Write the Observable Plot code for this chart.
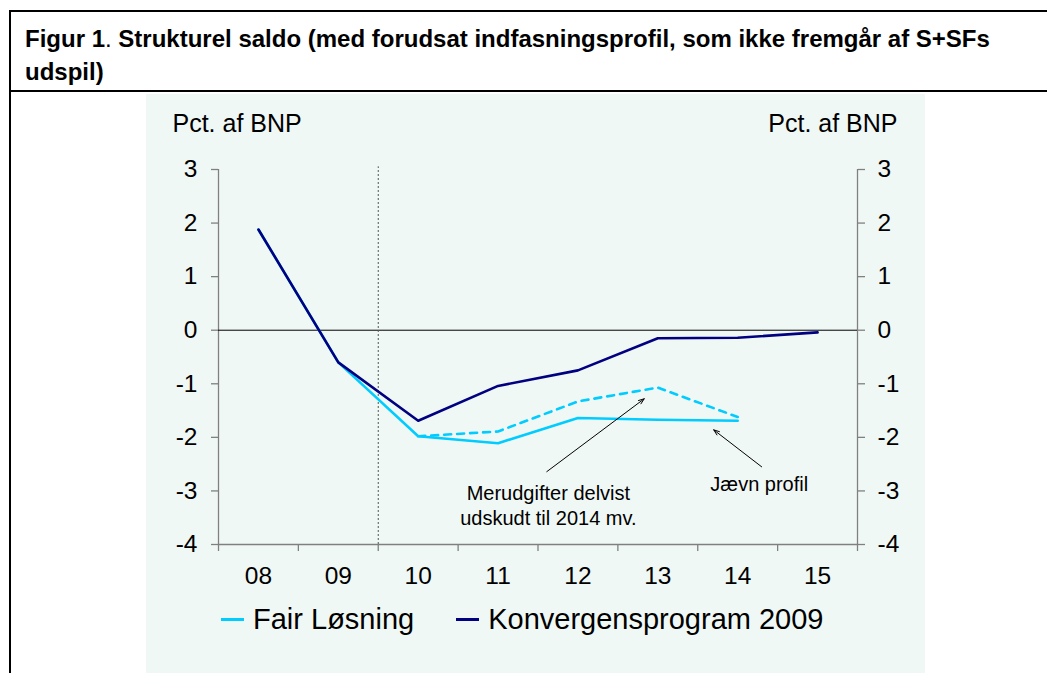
<!DOCTYPE html>
<html>
<head>
<meta charset="utf-8">
<script src="https://cdn.jsdelivr.net/npm/d3@7"></script>
<script src="https://cdn.jsdelivr.net/npm/@observablehq/plot@0.6"></script>
<style>
  html, body { margin: 0; padding: 0; background: #fff; }
  body { position: relative; width: 1047px; height: 673px; overflow: hidden; font-family: "Liberation Sans", Arial, sans-serif; }
  .vline { position: absolute; left: 9px; top: 10px; bottom: 0; width: 2px; background: #000; }
  .header { position: absolute; left: 9px; top: 10px; width: 1038px; height: 78px; border-top: 2px solid #000; border-bottom: 2px solid #000; }
  .title { position: absolute; left: 16px; top: 10px; width: 1010px; font-size: 24px; line-height: 33px; font-weight: bold; color: #000; margin: 0; white-space: nowrap; }
  .title .dot { font-weight: normal; }
  .panel { position: absolute; left: 146px; top: 94px; width: 779px; bottom: 0; background: #f0f8f5; }
  #chart { position: absolute; left: 0; top: 92px; }
  .legend { position: absolute; left: 221px; top: 603px; display: flex; align-items: center; font-size: 29px; color: #000; }
  .legend .item { display: flex; align-items: center; }
  .legend .sw { width: 23px; height: 3px; margin-right: 9px; }
</style>
</head>
<body>
<div class="panel"></div>
<div class="header"><p class="title"><span>Figur 1</span><span class="dot">.</span><span> Strukturel saldo (med forudsat indfasningsprofil, som ikke fremgår af S+SFs</span><br><span>udspil)</span></p></div>
<div class="vline"></div>
<div id="chart"></div>
<div class="legend" id="legend"></div>
<script>
// ---- data ----
const years = [8, 9, 10, 11, 12, 13, 14, 15];
const yearLabels = ["08", "09", "10", "11", "12", "13", "14", "15"];
const konvergens = [1.88, -0.60, -1.69, -1.04, -0.75, -0.15, -0.14, -0.04];
const fairLosning = [1.88, -0.60, -1.98, -2.11, -1.64, -1.67, -1.69, null];
const udskudtYears = [10, 11, 12, 13, 14];
const udskudt = [-1.98, -1.89, -1.33, -1.07, -1.62];
const yTicks = [-4, -3, -2, -1, 0, 1, 2, 3];
const seriesNames = ["Fair Løsning", "Konvergensprogram 2009"];
const seriesColors = ["#00ccff", "#000080"];
const annotations = [
  {text: "Merudgifter delvist\nudskudt til 2014 mv.", x: 11.63, y: -2.83, ax1: 11.61, ay1: -2.64, ax2: 12.83, ay2: -1.28},
  {text: "Jævn profil", x: 14.27, y: -2.67, ax1: 14.30, ay1: -2.55, ax2: 13.70, ay2: -1.86}
];
const phaseBoundary = 9.5;

// ---- build tables ----
const konvData = years.map((x, i) => ({x, y: konvergens[i]}));
const fairData = years.map((x, i) => ({x, y: fairLosning[i]})).filter(d => d.y != null);
const udskudtData = udskudtYears.map((x, i) => ({x, y: udskudt[i]}));
const boundaries = d3.range(years[0] - 0.5, years[years.length - 1] + 1, 1);
const xLo = years[0] - 0.5, xHi = years[years.length - 1] + 0.5;
const axisGray = "#808080";
const yFmt = d => String(d);

const chart = Plot.plot({
  width: 1047,
  height: 498,
  marginTop: 77,
  marginBottom: 46,
  marginLeft: 218,
  marginRight: 190,
  style: {background: "transparent", fontFamily: "'Liberation Sans', Arial, sans-serif", color: "#000", overflow: "visible"},
  x: {type: "linear", domain: [xLo, xHi]},
  y: {domain: [-4, 3]},
  marks: [
    Plot.axisX({ticks: boundaries, tickSize: 7, tickFormat: () => "", stroke: axisGray, strokeWidth: 1.3}),
    Plot.axisX({ticks: years, tickSize: 0, tickPadding: 22, tickFormat: d => yearLabels[years.indexOf(d)], fontSize: 24.5, label: null}),
    Plot.axisY({anchor: "left", ticks: yTicks, tickSize: 7, tickPadding: 14, tickFormat: yFmt, fontSize: 24.5, stroke: axisGray, strokeWidth: 1.3, label: null}),
    Plot.axisY({anchor: "right", ticks: yTicks, tickSize: 7, tickPadding: 13, tickFormat: yFmt, fontSize: 24.5, stroke: axisGray, strokeWidth: 1.3, label: null}),
    Plot.ruleX([xLo, xHi], {stroke: axisGray, strokeWidth: 1.3}),
    Plot.ruleY([-4], {stroke: axisGray, strokeWidth: 1.3}),
    Plot.ruleY([0], {stroke: "#000", strokeWidth: 1}),
    Plot.ruleX([phaseBoundary], {y1: -4, y2: 3.05, stroke: "#555", strokeWidth: 1, strokeDasharray: "2,2"}),
    Plot.text(["Pct. af BNP"], {frameAnchor: "top-left", textAnchor: "start", lineAnchor: "top", dx: -46, dy: -55, fontSize: 25, fill: "#000"}),
    Plot.text(["Pct. af BNP"], {frameAnchor: "top-right", textAnchor: "end", lineAnchor: "top", dx: 40, dy: -55, fontSize: 25, fill: "#000"}),
    Plot.line(udskudtData, {x: "x", y: "y", stroke: seriesColors[0], strokeWidth: 2.6, strokeDasharray: "7,6"}),
    Plot.line(fairData, {x: "x", y: "y", stroke: seriesColors[0], strokeWidth: 2.6}),
    Plot.line(konvData, {x: "x", y: "y", stroke: seriesColors[1], strokeWidth: 2.6}),
    Plot.arrow(annotations, {x1: "ax1", y1: "ay1", x2: "ax2", y2: "ay2", stroke: "#000", strokeWidth: 1, headLength: 9, headAngle: 40}),
    Plot.text(annotations, {x: "x", y: "y", text: "text", textAnchor: "middle", lineAnchor: "top", lineHeight: 1.25, fontSize: 20, fill: "#000"})
  ]
});
document.getElementById("chart").appendChild(chart);

// ---- legend ----
const legend = document.getElementById("legend");
seriesNames.forEach((name, i) => {
  const item = document.createElement("div");
  item.className = "item";
  if (i > 0) item.style.marginLeft = "42px";
  const sw = document.createElement("div");
  sw.className = "sw";
  sw.style.background = seriesColors[i];
  const label = document.createElement("span");
  label.textContent = name;
  item.appendChild(sw);
  item.appendChild(label);
  legend.appendChild(item);
});
</script>
</body>
</html>
